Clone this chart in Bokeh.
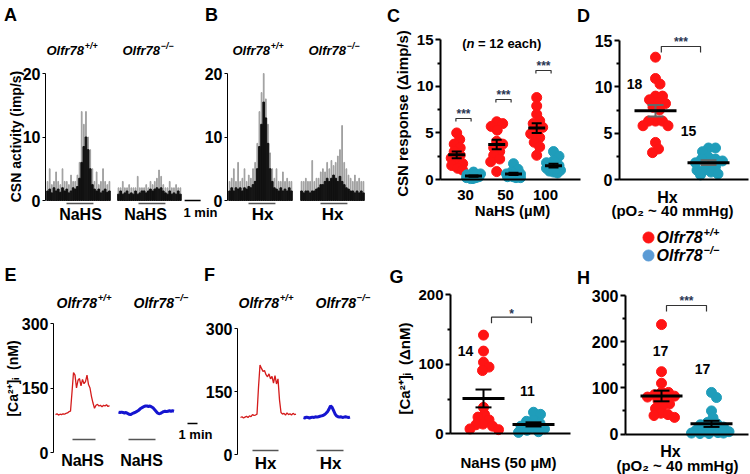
import numpy as np
from bokeh.plotting import figure
from bokeh.models import Range1d, LinearAxis, FixedTicker
from bokeh.core.properties import value
from bokeh.embed import file_html
from bokeh.resources import INLINE

# ---------------- data ----------------
bin_s = 8  # seconds per histogram bin
a_wt_black = [1.5,1.8,1.2,2.0,1.5,1.8,1.3,2.0,1.5,1.8,1.2,1.5,2.0,1.8,2.2,3.5,6.0,8.5,10.0,8.0,5.0,2.5,1.8,1.5,1.8,1.2,1.5,1.8,1.3,1.5]
a_wt_grey = [3.0,5.0,2.5,3.0,4.5,3.0,2.5,5.0,3.0,3.0,2.5,4.0,3.0,3.0,4.0,6.0,14.0,12.0,14.0,10.0,8.0,5.0,3.0,4.5,2.5,3.0,5.0,3.0,2.5,3.0]
a_ko_black = [1.0,1.5,1.0,1.2,1.5,1.0,1.2,1.0,1.5,1.0,1.2,1.5,1.5,1.2,1.5,1.8,1.5,1.8,2.0,1.8,2.0,1.5,1.2,1.0,1.5,1.0,1.2,1.0,1.5,1.0]
a_ko_grey = [2.0,2.0,3.0,2.0,2.0,2.5,2.0,2.0,2.0,3.8,2.0,2.0,2.0,2.5,2.0,3.0,2.5,3.0,3.5,4.8,3.8,2.5,2.0,2.0,3.0,2.0,2.0,2.5,2.0,2.0]
b_wt_black = [1.5,2.0,1.5,2.0,1.8,2.0,1.5,2.0,1.8,2.2,2.0,2.5,3.0,5.0,8.5,12.0,15.5,13.0,9.0,5.0,3.0,2.0,1.8,1.5,2.0,1.5,1.8,1.5,2.0,1.5]
b_wt_grey = [3.0,3.5,5.0,3.0,6.0,3.0,3.5,5.0,3.0,4.0,3.5,5.0,6.0,9.0,14.0,17.0,20.0,16.0,12.0,7.5,5.0,3.5,5.0,3.0,3.0,4.5,3.0,3.5,3.0,3.0]
b_ko_black = [1.5,1.2,1.5,1.5,1.2,1.5,1.5,1.8,2.0,2.5,2.5,3.0,3.5,3.0,3.5,4.0,3.5,3.0,3.8,3.0,2.5,2.0,1.8,1.5,1.5,1.2,1.5,1.2,1.5,1.2]
b_ko_grey = [3.0,3.0,3.5,3.0,3.0,6.3,3.0,3.5,3.5,4.5,5.0,4.5,6.0,5.0,6.3,5.5,6.0,7.0,8.0,11.8,6.0,5.0,4.0,3.5,3.0,4.0,3.0,3.5,3.0,3.0]
ko_start_a = 266          # s, start of knockout trace in panel A
ko_start_b = 270          # s, start of knockout trace in panel B
stim_ab = [(75, 176), (345, 446)]   # stimulus periods (s)

c_doses = ["30", "50", "100"]
c_wt = [[5.0,4.3,3.8,3.4,3.0,2.6,2.3,2.0,1.7,1.5,1.2,1.0],
        [6.2,6.0,5.7,5.3,4.1,3.8,3.4,3.0,2.6,2.2,1.9,0.85],
        [8.8,7.9,7.0,6.3,6.0,5.6,5.2,4.9,4.5,4.0,3.5,2.6]]
c_ko = [[0.8,0.6,0.5,0.4,0.3,0.3,0.2,0.2,0.1,0.1,0.5,0.4],
        [1.7,1.1,0.8,0.6,0.5,0.4,0.3,0.3,0.2,0.2,0.5,0.6],
        [3.0,2.5,2.0,1.8,1.5,1.3,1.2,1.0,0.9,0.8,0.7,1.1]]

d_wt = [13.2,10.9,10.3,9.0,9.0,8.6,8.3,8.2,7.5,7.8,6.3,6.3,6.3,5.8,5.8,4.0,3.3,2.9]
d_ko = [3.4,3.4,3.0,2.4,2.2,2.2,2.0,1.8,1.6,1.4,1.0,1.0,0.8,0.6,0.5]

trace_dt = 9   # s between Ca2+ samples
e_wt = [88,90,87,89,88,90,89,91,92,95,96,140,186,180,150,168,172,155,170,160,165,180,158,150,130,115,103,110,112,108,110,106,110,108,111,107,109]
e_ko = [94,93,94,93,92,93,91,89,88,90,92,93,95,97,100,103,105,107,108,108,107,108,106,104,100,96,92,90,91,93,95,96,95,96,97,96,97,96]
f_wt = [88,90,87,89,91,88,92,90,95,93,94,96,160,213,205,198,200,190,185,192,180,186,170,188,168,180,130,100,96,98,94,99,95,97,94,98,95,96]
f_ko = [88,87,89,88,87,88,89,88,90,89,90,91,92,93,95,98,102,108,116,113,105,97,92,90,89,90,88,89,90,89,88,89]
ko_start_ef = 378
stim_e = [(102, 240), (438, 600)]
stim_f = [(72, 228), (456, 618)]

g_wt = [142,119,103,96,91,38,28,24,20,14,13,11,7,6]
g_ko = [31,28,20,18,15,11,9,7,5,3,2]
h_wt = [237,135,110,90,85,90,82,80,76,72,65,60,55,45,42,40,36]
h_ko = [90,79,50,35,22,25,20,15,10,8,5,5,3,2,2,1,1]

# ---------------- layout helpers ----------------
W, H = 750, 474

XR, YR = {}, {}

def set_x(name, v0, p0, v1, p1):
    k = (p1 - p0) / (v1 - v0)
    s = v0 - p0 / k
    XR[name] = Range1d(start=s, end=s + W / k)
    return k

def set_y(name, v0, p0, v1, p1):
    k = (p0 - p1) / (v1 - v0)
    s = v0 - (H - p0) / k
    YR[name] = Range1d(start=s, end=s + H / k)
    return k

def xv(name, px):
    r = XR[name]
    return r.start + px * (r.end - r.start) / W

def yv(name, py):
    r = YR[name]
    return r.start + (H - py) * (r.end - r.start) / H

set_x("A", 0, 46, 60, 62); set_y("A", 0, 200, 20, 73)
set_x("B", 0, 228, 60, 244); set_y("B", 0, 200, 20, 73)
kxC = set_x("C", 1, 465, 2, 505); kyC = set_y("C", 0, 179, 15, 39.3)
kxD = set_x("D", 1, 655, 2, 708); kyD = set_y("D", 0, 179, 15, 40)
set_x("E", 0, 55, 60, 65); set_y("E", 0, 452, 300, 323)
set_x("F", 0, 240, 60, 250); set_y("F", 0, 454, 300, 328)
kxG = set_x("G", 1, 483, 2, 533); kyG = set_y("G", 0, 433.3, 200, 294.3)
kxH = set_x("H", 1, 661, 2, 711); kyH = set_y("H", 0, 433.5, 300, 295)

p = figure(width=W, height=H, output_backend="svg", toolbar_location=None,
           x_range=Range1d(0, W), y_range=Range1d(H, 0),
           x_axis_type=None, y_axis_type=None, min_border=0,
           outline_line_color=None, title_location=None,
           extra_x_ranges=XR, extra_y_ranges=YR)
p.background_fill_color = "white"
p.border_fill_color = "white"

FONT = value("Liberation Sans")
RED = "#FF1414"
TEAL = "#1F9DBA"
STAR = "#2A3552"
NB = "\u00a0"

def T(x, y, s, size, align="center", base="middle", style="bold", color="black",
      angle=0.0, xr="default", yr="default"):
    p.text(x=[x], y=[y], text=[s], text_font=FONT, text_font_size=f"{size:.1f}px",
           text_font_style=style, text_align=align, text_baseline=base,
           text_color=color, angle=angle, x_range_name=xr, y_range_name=yr)

def geno(px, py, wt, size):
    T(px, py, "Olfr78", size, align="left", style="bold italic")
    T(px + 2.89 * size + 0.8, py - 0.33 * size,
      "+/+" if wt else "\u2212/\u2212", size * 0.68, align="left", style="bold italic")

def yaxis(panel, px, lo, hi, ticks, minor=(), size=15, lw=1.0, tout=3, tmin=2, standoff=2):
    ax = LinearAxis(x_range_name=panel, y_range_name=panel,
                    fixed_location=xv(panel, px), bounds=(lo, hi),
                    ticker=FixedTicker(ticks=list(ticks), minor_ticks=list(minor)))
    ax.axis_line_width = lw
    ax.axis_line_color = "black"
    ax.major_tick_line_width = lw
    ax.major_tick_line_color = "black"
    ax.major_tick_out = tout
    ax.major_tick_in = 0
    ax.minor_tick_line_width = lw
    ax.minor_tick_line_color = "black"
    ax.minor_tick_out = tmin
    ax.minor_tick_in = 0
    ax.major_label_text_font = "Liberation Sans"
    ax.major_label_text_font_size = f"{size}px"
    ax.major_label_text_font_style = "bold"
    ax.major_label_text_color = "black"
    ax.major_label_standoff = standoff
    p.add_layout(ax, "left")

def xaxis(panel, lo_px, hi_px, ticks=(), labels=None, size=15, lw=2.0, standoff=4):
    ax = LinearAxis(x_range_name=panel, y_range_name=panel, fixed_location=0,
                    bounds=(xv(panel, lo_px), xv(panel, hi_px)),
                    ticker=FixedTicker(ticks=list(ticks)))
    if labels:
        ax.major_label_overrides = labels
    ax.axis_line_width = lw
    ax.axis_line_color = "black"
    ax.major_tick_line_color = None
    ax.minor_tick_line_color = None
    ax.major_label_text_font = "Liberation Sans"
    ax.major_label_text_font_size = f"{size}px"
    ax.major_label_text_font_style = "bold"
    ax.major_label_text_color = "black"
    ax.major_label_standoff = standoff
    p.add_layout(ax, "below")

def hist(panel, t0, black, grey):
    t = t0 + bin_s * (np.arange(len(black)) + 0.5)
    p.vbar(x=t, top=grey, bottom=0, width=bin_s * 0.35, color="#a0a0a0",
           x_range_name=panel, y_range_name=panel)
    p.vbar(x=t, top=black, bottom=0, width=bin_s * 0.8, color="#111111",
           x_range_name=panel, y_range_name=panel)

def stim(panel, periods, ybar):
    for a, b in periods:
        p.line(x=[a, b], y=[ybar, ybar], line_color="#555555", line_width=1.5,
               x_range_name=panel, y_range_name=panel)

def swarm(vals, kx, ky, maxw, d=7.0):
    vals = np.asarray(vals, float)
    ypx = vals * ky
    order = np.argsort(-vals, kind="stable")
    cands = [0.0]
    s = 0.5
    while s <= maxw:
        cands += [s, -s]
        s += 0.5
    placed, out = [], np.zeros(len(vals))
    for i in order:
        best, bestd = 0.0, -1.0
        for c in cands:
            md = min([np.hypot(c - a, ypx[i] - b) for a, b in placed] or [1e9])
            if md >= d:
                best = c
                break
            if md > bestd + 1e-9:
                best, bestd = c, md
        placed.append((best, ypx[i]))
        out[i] = best / kx
    return out

DOT = 10

def group(panel, xc, vals, color, kx, ky, mean_half, cap_half, maxw, sem_color="black",
          mean_w=3.0, sem_w=2.0):
    vals = np.asarray(vals, float)
    off = swarm(vals, kx, ky, maxw)
    p.scatter(x=xc + off, y=vals, size=DOT, fill_color=color, line_color=color,
              x_range_name=panel, y_range_name=panel)
    m = vals.mean()
    s = vals.std(ddof=1) / np.sqrt(len(vals))
    hw, cw = mean_half / kx, cap_half / kx
    p.segment(x0=[xc, xc - cw, xc - cw], y0=[m - s, m - s, m + s],
              x1=[xc, xc + cw, xc + cw], y1=[m + s, m - s, m + s],
              line_color=sem_color, line_width=sem_w, x_range_name=panel, y_range_name=panel)
    p.segment(x0=[xc - hw], y0=[m], x1=[xc + hw], y1=[m], line_color="black",
              line_width=mean_w, x_range_name=panel, y_range_name=panel)

def bracket(panel, x0, x1, top_py, drop, stars, star_py, size=12):
    yt, yb = yv(panel, top_py), yv(panel, top_py + drop)
    p.line(x=[x0, x0, x1, x1], y=[yb, yt, yt, yb], line_color="#333333", line_width=1.2,
           x_range_name=panel, y_range_name=panel)
    T((x0 + x1) / 2, yv(panel, star_py), stars, size, base="alphabetic", color=STAR,
      xr=panel, yr=panel)

# ---------------- panel letters ----------------
for L, px, py in [("A", 10, 14), ("B", 211, 14), ("C", 393, 15), ("D", 583, 15),
                  ("E", 10, 274), ("F", 209, 274), ("G", 396, 276), ("H", 583, 277)]:
    T(px, py, L, 18)

# ---------------- A ----------------
hist("A", 0, a_wt_black, a_wt_grey)
hist("A", ko_start_a, a_ko_black, a_ko_grey)
yaxis("A", 45, 0, 20, [0, 10, 20], size=16, tout=3, standoff=2)
stim("A", stim_ab, yv("A", 203))
geno(46, 50, True, 13)
geno(122, 50, False, 13)
T(80, 214, "NaHS", 16)
T(145, 214, "NaHS", 16)
T(15, 136, "CSN activity (imp/s)", 14, angle=np.pi / 2)
p.line(x=[518, 578], y=[0, 0], line_color="black", line_width=1.5,
       x_range_name="A", y_range_name="A")
T(200, 212, "1 min", 13)

# ---------------- B ----------------
hist("B", 0, b_wt_black, b_wt_grey)
hist("B", ko_start_b, b_ko_black, b_ko_grey)
yaxis("B", 227, 0, 20, [0, 10, 20], size=16, tout=3, standoff=2)
stim("B", stim_ab, yv("B", 203))
geno(232, 50, True, 13)
geno(308, 50, False, 13)
T(262, 214, "Hx", 17)
T(332, 214, "Hx", 17)

# ---------------- C ----------------
T(402, 113, "CSN response (\u0394imp/s)", 15, angle=np.pi / 2)
yaxis("C", 440, 0, 15, [0, 5, 10, 15], [2.5, 7.5, 12.5], size=15, lw=2, tout=5, tmin=3, standoff=2)
xaxis("C", 440, 580, [1, 2, 3], {1: c_doses[0], 2: c_doses[1], 3: c_doses[2]}, size=15, standoff=4)
for i in range(3):
    xc = i + 1
    group("C", xc - 0.22, c_wt[i], RED, kxC, kyC, 8.5, 5, 6)
    group("C", xc + 0.2, c_ko[i], TEAL, kxC, kyC, 8.5, 5, 7)
for i, (top, st) in enumerate([(118, 110), (99, 91), (70, 62)]):
    bracket("C", i + 1 - 0.24, i + 1 + 0.14, top, 3, "***", st + 3, size=12)
T(466, 43, "(", 13, align="right")
T(466, 43, "n", 13, align="left", style="bold italic")
T(474, 43, NB + "=" + NB + "12" + NB + "each)", 13, align="left")
T(512, 210, "NaHS (\u00b5M)", 15)

# ---------------- D ----------------
yaxis("D", 619, 0, 15, [0, 5, 10, 15], [2.5, 7.5, 12.5], size=16, lw=2, tout=5, tmin=3, standoff=2)
xaxis("D", 619, 748, [1.226], {1.226: "Hx"}, size=16, standoff=3)
group("D", 1, d_wt, RED, kxD, kyD, 21, 8, 17, sem_color="#666666")
group("D", 2, d_ko, TEAL, kxD, kyD, 21, 8, 15, sem_color="#666666")
bracket("D", 1.11, 1.85, 46, 6, "***", 41, size=12)
T(634, 83, str(len(d_wt)), 14)
T(688, 130, str(len(d_ko)), 14)
T(672, 210, "(pO\u2082 ~ 40 mmHg)", 15)
p.scatter(x=[648, 648], y=[237, 255], size=11,
          fill_color=[RED, "#5B9BD5"], line_color=[RED, "#5B9BD5"])
geno(656, 237, True, 16)
geno(656, 255, False, 16)

# ---------------- E ----------------
yaxis("E", 53, 0, 300, [0, 150, 300], size=16, tout=3, standoff=2)
p.line(x=trace_dt * np.arange(len(e_wt)), y=e_wt, line_color="#D41B1B", line_width=1.3,
       x_range_name="E", y_range_name="E")
p.line(x=ko_start_ef + trace_dt * np.arange(len(e_ko)), y=e_ko, line_color="#1515D0",
       line_width=3, x_range_name="E", y_range_name="E")
stim("E", stim_e, yv("E", 439))
geno(56, 302, True, 14)
geno(133, 302, False, 14)
T(82, 460, "NaHS", 16)
T(141, 460, "NaHS", 16)
T(12, 378, "[Ca\u00b2\u207a]\u1d62" + NB + NB + "(nM)", 14, angle=np.pi / 2)
p.line(x=[792, 852], y=[yv("E", 423)] * 2, line_color="black", line_width=1.5,
       x_range_name="E", y_range_name="E")
T(195, 434, "1 min", 13)

# ---------------- F ----------------
yaxis("F", 237, 0, 300, [0, 150, 300], size=16, tout=3, standoff=2)
p.line(x=trace_dt * np.arange(len(f_wt)), y=f_wt, line_color="#D41B1B", line_width=1.3,
       x_range_name="F", y_range_name="F")
p.line(x=ko_start_ef + trace_dt * np.arange(len(f_ko)), y=f_ko, line_color="#1515D0",
       line_width=3, x_range_name="F", y_range_name="F")
stim("F", stim_f, yv("F", 450))
geno(238, 302, True, 14)
geno(315, 302, False, 14)
T(265, 463, "Hx", 17)
T(330, 463, "Hx", 17)

# ---------------- G ----------------
T(404, 368, "[Ca\u00b2\u207a]\u1d62" + NB + NB + "(\u0394nM)", 15, angle=np.pi / 2)
yaxis("G", 450, 0, 200, [0, 100, 200], [50, 150], size=15, lw=2, tout=5, tmin=3, standoff=2)
xaxis("G", 450, 570, [], None)
group("G", 1, g_wt, RED, kxG, kyG, 21, 8, 15)
group("G", 2, g_ko, TEAL, kxG, kyG, 21, 8, 15)
bracket("G", 1.16, 1.96, 316.7, 6, "*", 313, size=12)
T(465, 350, str(len(g_wt)), 14)
T(527, 390, str(len(g_ko)), 14)
T(508, 462, "NaHS (50 \u00b5M)", 15)

# ---------------- H ----------------
yaxis("H", 625, 0, 300, [0, 100, 200, 300], [50, 150, 250], size=16, lw=2, tout=5, tmin=3, standoff=2)
xaxis("H", 625, 748, [1.18], {1.18: "Hx"}, size=16, standoff=3)
group("H", 1, h_wt, RED, kxH, kyH, 21, 8, 15)
group("H", 2, h_ko, TEAL, kxH, kyH, 21, 8, 20)
bracket("H", 1.1, 1.9, 305, 6, "***", 300, size=12)
T(660, 350, str(len(h_wt)), 14)
T(702, 368, str(len(h_ko)), 14)
T(677, 465, "(pO\u2082 ~ 40 mmHg)", 15)

open("out.html", "w").write(file_html(p, INLINE))
